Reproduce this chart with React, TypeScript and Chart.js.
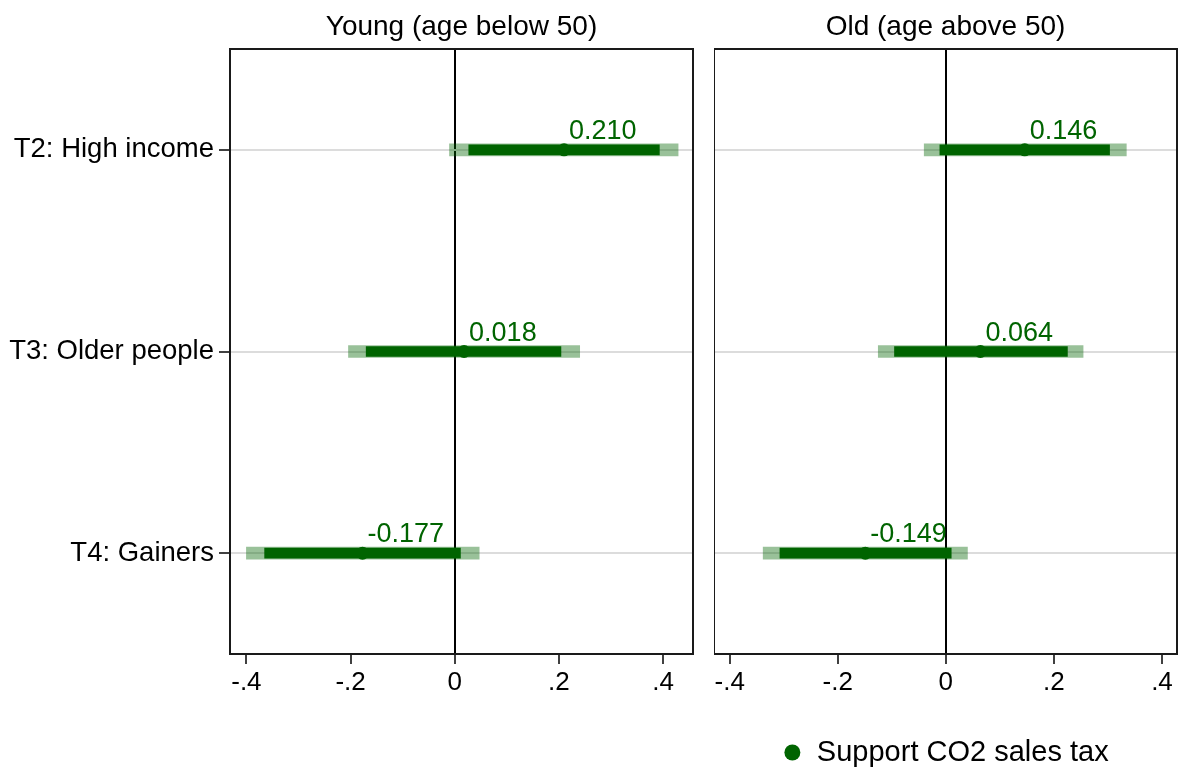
import { useEffect, useRef } from "react";
import { Chart, registerables } from "chart.js";

Chart.register(...registerables);

// treatments (rows)
const categories = ["T2: High income", "T3: Older people", "T4: Gainers"];

// young panel: point estimate, 95% and 90% intervals
const youngEst = [0.21, 0.018, -0.177];
const youngLo95 = [-0.01, -0.204, -0.4];
const youngHi95 = [0.429, 0.24, 0.047];
const youngLo90 = [0.027, -0.17, -0.365];
const youngHi90 = [0.393, 0.204, 0.011];

// old panel
const oldEst = [0.146, 0.064, -0.149];
const oldLo95 = [-0.04, -0.125, -0.338];
const oldHi95 = [0.334, 0.254, 0.04];
const oldLo90 = [-0.011, -0.095, -0.307];
const oldHi90 = [0.303, 0.225, 0.01];

const xTicks = [-0.4, -0.2, 0, 0.2, 0.4];
const xTickLabels = ["-.4", "-.2", "0", ".2", ".4"];
const legendLabel = "Support CO2 sales tax";

const FONT = "'Liberation Sans', Arial, sans-serif";
const GREEN = "#006400";
const LIGHT_GREEN = "rgba(0,100,0,0.4)";
const PLOT_BOTTOM = 654;

type PanelProps = {
  title: string;
  est: number[];
  lo95: number[];
  hi95: number[];
  lo90: number[];
  hi90: number[];
  xMin: number;
  xMax: number;
  showYLabels: boolean;
  showLegend: boolean;
  left: number;
  width: number;
  height: number;
};

const Panel = ({ title, est, lo95, hi95, lo90, hi90, xMin, xMax, showYLabels, showLegend, left, width, height }: PanelProps) => {
  const canvasRef = useRef<HTMLCanvasElement>(null);

  useEffect(() => {
    if (!canvasRef.current) return;
    const ctx = canvasRef.current.getContext("2d");
    if (!ctx) return;

    // box around the plot region
    const framePlugin = {
      id: "frame",
      beforeDatasetsDraw(chart: any) {
        const { ctx, chartArea } = chart;
        ctx.save();
        ctx.strokeStyle = "#1a1a1a";
        ctx.lineWidth = 2;
        ctx.strokeRect(chartArea.left, chartArea.top, chartArea.right - chartArea.left, chartArea.bottom - chartArea.top);
        ctx.restore();
      },
    };

    // numeric label next to each point
    const valueLabelPlugin = {
      id: "valueLabels",
      afterDatasetsDraw(chart: any) {
        const { ctx } = chart;
        const meta = chart.getDatasetMeta(0);
        ctx.save();
        ctx.font = `27px ${FONT}`;
        ctx.fillStyle = GREEN;
        ctx.textAlign = "left";
        ctx.textBaseline = "alphabetic";
        meta.data.forEach((pt: any, i: number) => {
          ctx.fillText(est[i].toFixed(3), pt.x + 5, pt.y - 11);
        });
        ctx.restore();
      },
    };

    const legendH = showLegend ? 49 : 0;

    const chart = new Chart(ctx, {
      type: "bar",
      data: {
        labels: categories,
        datasets: [
          {
            type: "line",
            label: legendLabel,
            data: est,
            showLine: false,
            pointRadius: 6.5,
            pointHoverRadius: 6.5,
            pointStyle: "circle",
            backgroundColor: GREEN,
            borderColor: GREEN,
            borderWidth: 0,
            pointBorderWidth: 0,
            order: 1,
          } as any,
          {
            label: "90%",
            data: lo90.map((v, i) => [v, hi90[i]]),
            backgroundColor: GREEN,
            barThickness: 10,
            grouped: false,
            order: 2,
          },
          {
            label: "95%",
            data: lo95.map((v, i) => [v, hi95[i]]),
            backgroundColor: LIGHT_GREEN,
            barThickness: 12,
            grouped: false,
            order: 3,
          },
        ],
      },
      options: {
        indexAxis: "y",
        responsive: false,
        animation: false,
        layout: { autoPadding: false, padding: { left: 0, right: 7, top: 0, bottom: 0 } },
        plugins: {
          title: {
            display: true,
            text: title,
            fullSize: false,
            color: "#000",
            font: { family: FONT, size: 28, weight: "normal", lineHeight: 1 },
            padding: { top: 13, bottom: 8 },
          },
          legend: {
            display: showLegend,
            position: "bottom",
            labels: {
              filter: (item: any) => item.datasetIndex === 0,
              usePointStyle: true,
              boxWidth: 20,
              boxHeight: 11.3,
              color: "#000",
              font: { family: FONT, size: 29 },
            },
          },
          tooltip: { enabled: false },
        },
        scales: {
          x: {
            type: "linear",
            min: xMin,
            max: xMax,
            afterBuildTicks: (scale: any) => {
              scale.ticks = xTicks.map((v) => ({ value: v }));
            },
            afterFit: (scale: any) => {
              scale.height = height - PLOT_BOTTOM - legendH;
              scale.paddingLeft = 0;
              scale.paddingRight = 0;
            },
            ticks: {
              callback: (value: any) => xTickLabels[xTicks.indexOf(Number(value))],
              color: "#000",
              font: { family: FONT, size: 26 },
              padding: 3,
              autoSkip: false,
              maxRotation: 0,
            },
            grid: {
              color: (c: any) => (c.tick && c.tick.value === 0 ? "#000" : "rgba(0,0,0,0)"),
              lineWidth: 2,
              tickColor: "#000",
              tickLength: 10,
              tickWidth: 1.5,
            },
            border: { display: false },
          },
          y: {
            type: "category",
            offset: true,
            afterFit: (scale: any) => {
              scale.width = showYLabels ? 230 : 0;
            },
            ticks: {
              display: showYLabels,
              color: "#000",
              font: { family: FONT, size: 27.5 },
              padding: 5,
            },
            grid: {
              offset: false,
              color: "#dcdcdc",
              lineWidth: 2,
              drawTicks: showYLabels,
              tickColor: "#000",
              tickLength: 11,
              tickWidth: 1.5,
            },
            border: { display: false },
          },
        },
      },
      plugins: [framePlugin, valueLabelPlugin],
    });

    return () => {
      chart.destroy();
    };
  }, []);

  return (
    <canvas
      ref={canvasRef}
      width={width}
      height={height}
      style={{ position: "absolute", left, top: 0, width, height }}
    ></canvas>
  );
};

export default function App() {
  return (
    <div style={{ position: "absolute", left: 0, top: 0, width: 1184, height: 769, overflow: "hidden", background: "#fff" }}>
      <Panel
        title="Young (age below 50)"
        est={youngEst}
        lo95={youngLo95}
        hi95={youngHi95}
        lo90={youngLo90}
        hi90={youngHi90}
        xMin={-0.4315}
        xMax={0.4576}
        showYLabels={true}
        showLegend={false}
        left={0}
        width={700}
        height={769}
      />
      <Panel
        title="Old (age above 50)"
        est={oldEst}
        lo95={oldLo95}
        hi95={oldHi95}
        lo90={oldLo90}
        hi90={oldHi90}
        xMin={-0.429}
        xMax={0.4278}
        showYLabels={false}
        showLegend={true}
        left={714}
        width={470}
        height={777}
      />
    </div>
  );
}
